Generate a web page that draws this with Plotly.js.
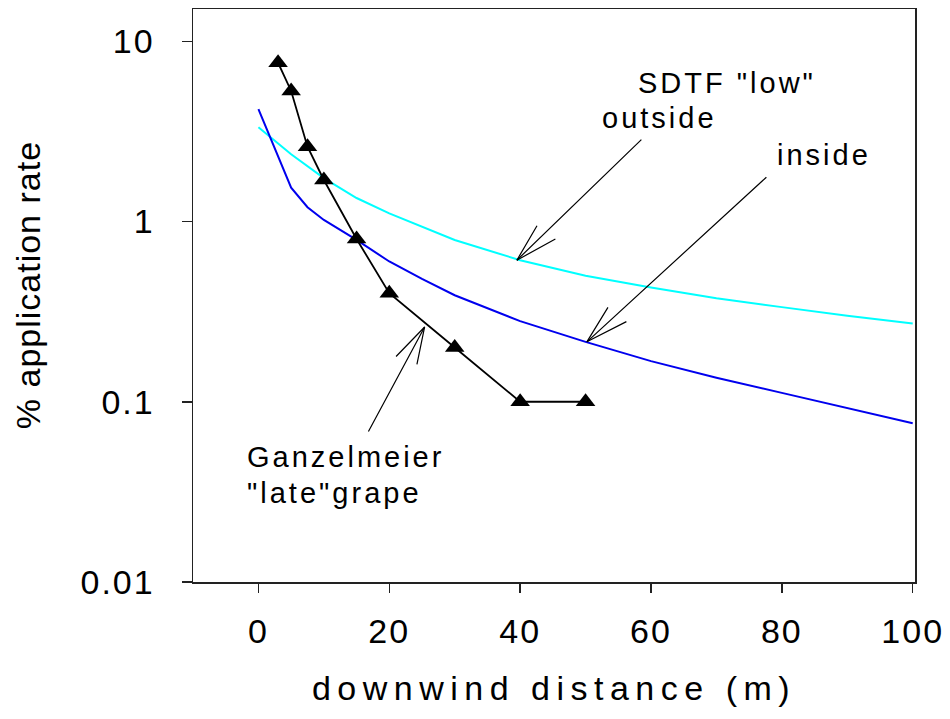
<!DOCTYPE html>
<html>
<head>
<meta charset="utf-8">
<script src="https://cdn.plot.ly/plotly-3.0.1.min.js"></script>
<style>
  html, body { margin: 0; padding: 0; background: #fff; }
  #chart { width: 950px; height: 719px; }
  .xtick text, .ytick text { letter-spacing: 2px; }
  .annotation-text { letter-spacing: 3px; }
  .annotation[data-index="14"] .annotation-text { letter-spacing: 1px; }
  .xtitle { letter-spacing: 6.5px; }
</style>
</head>
<body>
<div id="chart"></div>
<script>
// ---- data ----
const ganzX = [3, 5, 7.5, 10, 15, 20, 30, 40, 50];
const ganzY = [7.6, 5.3, 2.6, 1.7, 0.8, 0.4, 0.2, 0.1, 0.1];

const outsideX = [0, 5, 10, 15, 20, 30, 40, 50, 60, 70, 80, 90, 100];
const outsideY = [3.33, 2.36, 1.74, 1.35, 1.11, 0.79, 0.61, 0.50, 0.43, 0.375, 0.335, 0.30, 0.272];

const insideX = [0, 5, 7.5, 10, 15, 20, 25, 30, 40, 50, 60, 70, 80, 90, 100];
const insideY = [4.2, 1.54, 1.2, 1.02, 0.79, 0.6, 0.48, 0.39, 0.28, 0.215, 0.168, 0.136, 0.112, 0.092, 0.076];

const xTickVals = [0, 20, 40, 60, 80, 100];
const yTickVals = [0.01, 0.1, 1, 10];
const yTickText = ['0.01', '0.1', '1', '10'];

const labelTexts = ['SDTF "low"', 'outside', 'inside', 'Ganzelmeier', '"late"grape'];
const labelX = [71.6, 61.3, 86.4, -2.1, -2.1];
const labelY = [5.86, 3.74, 2.34, 0.0492, 0.0310];
const labelAnchor = ['center', 'center', 'center', 'left', 'left'];

// arrow tips (data) for: outside curve, inside curve, Ganzelmeier curve
const arrowTipX = [39.5, 50.2, 25.4];
const arrowTipY = [0.61, 0.215, 0.26];

const FONT = '"Liberation Sans", Arial, Helvetica, sans-serif';

// arrow geometry in pixels relative to tip: shaft tail, barb1, barb2
const arrowGeom = [
  [[126, -122], [21, -36], [40, -22]],
  [[181, -166], [22, -36], [41, -21]],
  [[-57, 106], [-30, 31], [-8, 39]]
];

const traces = [
  {
    x: outsideX, y: outsideY, mode: 'lines', type: 'scatter',
    line: { color: '#00FFFF', width: 2 }, hoverinfo: 'skip'
  },
  {
    x: insideX, y: insideY, mode: 'lines', type: 'scatter',
    line: { color: '#0000EE', width: 2 }, hoverinfo: 'skip'
  },
  {
    x: ganzX, y: ganzY, mode: 'lines+markers', type: 'scatter',
    line: { color: '#000000', width: 1.8 },
    marker: { symbol: 'triangle-up', size: 17, color: '#000000' },
    hoverinfo: 'skip'
  }
];

const annotations = [];
labelTexts.forEach((t, i) => {
  annotations.push({
    x: labelX[i], y: Math.log10(labelY[i]), xref: 'x', yref: 'y',
    text: t, showarrow: false, xanchor: labelAnchor[i], yanchor: 'middle',
    font: { family: FONT, size: 29, color: '#000' }
  });
});
arrowTipX.forEach((tx, i) => {
  arrowGeom[i].forEach(([dx, dy]) => {
    annotations.push({
      x: tx, y: Math.log10(arrowTipY[i]), xref: 'x', yref: 'y',
      ax: dx, ay: dy, text: '', showarrow: true, arrowhead: 0,
      arrowwidth: 1.2, arrowcolor: '#000', standoff: 0, startstandoff: 0
    });
  });
});
// y axis title
annotations.push({
  x: -0.2285, y: 0.518, xref: 'paper', yref: 'paper',
  text: '% application rate', textangle: -90, showarrow: false,
  xanchor: 'center', yanchor: 'middle',
  font: { family: FONT, size: 34, color: '#000' }
});

const layout = {
  width: 950, height: 719,
  margin: { l: 193, r: 35, t: 9, b: 137, pad: 0 },
  paper_bgcolor: '#fff', plot_bgcolor: '#fff',
  showlegend: false,
  font: { family: FONT, color: '#000' },
  xaxis: {
    type: 'linear', range: [-10, 100.35], autorange: false,
    tickmode: 'array', tickvals: xTickVals,
    ticks: 'outside', ticklen: 9, tickwidth: 1.5, tickcolor: '#222',
    showline: true, linecolor: '#222', linewidth: 1.5, mirror: true,
    showgrid: false, zeroline: false,
    tickfont: { family: FONT, size: 34, color: '#000' },
    ticklabelstandoff: 10,
    title: { text: 'downwind distance (m)', font: { family: FONT, size: 34, color: '#000' }, standoff: 27 },
    automargin: false
  },
  yaxis: {
    type: 'log', range: [-2, 1.179], autorange: false,
    tickmode: 'array', tickvals: yTickVals, ticktext: yTickText,
    ticks: 'outside', ticklen: 10, tickwidth: 1.5, tickcolor: '#222',
    showline: true, linecolor: '#222', linewidth: 1.5, mirror: true,
    showgrid: false, zeroline: false,
    tickfont: { family: FONT, size: 34, color: '#000' },
    ticklabelstandoff: 20,
    automargin: false
  },
  annotations: annotations
};

Plotly.newPlot('chart', traces, layout, { staticPlot: true, displayModeBar: false });
</script>
</body>
</html>
